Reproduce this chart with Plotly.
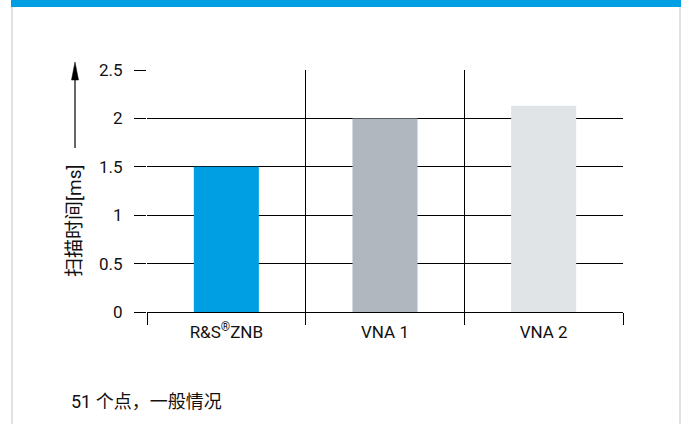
import plotly.graph_objects as go

categories = ["R&S<sup>®</sup>ZNB", "VNA 1", "VNA 2"]
sweep_time_ms = [1.5, 2.0, 2.13]
bar_colors = ["#009fe3", "#b0b7bf", "#e0e4e7"]
y_title = "扫描时间[ms]"
footnote = "51 个点，一般情况"

W, H = 688, 424
L, R, T, B = 147, 623, 70, 312  # plot area in pixels


def px(x):
    return (x - L) / (R - L)


def py(y):
    return (B - y) / (B - T)


FONT = "Roboto, Noto Sans CJK SC, sans-serif"

fig = go.Figure(
    go.Bar(
        x=categories,
        y=sweep_time_ms,
        marker=dict(color=bar_colors, line=dict(width=0)),
        width=0.41,
    )
)

fig.update_layout(
    width=W,
    height=H,
    margin=dict(l=L, r=W - R, t=T, b=H - B),
    paper_bgcolor="white",
    plot_bgcolor="white",
    showlegend=False,
    font=dict(family=FONT, color="#111111", size=17),
)

fig.update_xaxes(
    type="category",
    range=[-0.5, 2.5],
    tickson="boundaries",
    ticks="outside",
    ticklen=12,
    tickwidth=1,
    tickcolor="black",
    showgrid=True,
    gridcolor="black",
    gridwidth=1,
    showline=False,
    zeroline=False,
    tickfont=dict(size=17, family=FONT),
    ticklabelstandoff=8,
)

fig.update_yaxes(
    range=[0, 2.5],
    tickmode="array",
    tickvals=[0, 0.5, 1, 1.5, 2, 2.5],
    ticktext=["0", "0.5", "1", "1.5", "2", "2.5"],
    ticks="outside",
    ticklen=12,
    tickwidth=1,
    tickcolor="black",
    showgrid=True,
    gridcolor="black",
    gridwidth=1,
    zeroline=True,
    zerolinecolor="black",
    zerolinewidth=1,
    showline=False,
    tickfont=dict(size=17, family=FONT),
    ticklabelstandoff=8,
)

shapes = [
    # top blue band
    dict(type="rect", xref="paper", yref="paper",
         x0=px(11), x1=px(681), y0=py(7), y1=py(0),
         fillcolor="#009fe3", line=dict(width=0), layer="above"),
    # side borders
    dict(type="line", xref="paper", yref="paper",
         x0=px(12), x1=px(12), y0=py(7), y1=py(424),
         line=dict(color="#dde2e5", width=2)),
    dict(type="line", xref="paper", yref="paper",
         x0=px(680), x1=px(680), y0=py(7), y1=py(424),
         line=dict(color="#dde2e5", width=2)),
    # y-title arrow shaft
    dict(type="line", xref="paper", yref="paper",
         x0=px(75), x1=px(75), y0=py(148), y1=py(76),
         line=dict(color="black", width=1.2)),
    # y-title arrow head
    dict(type="path", xref="paper", yref="paper",
         path="M {a},{b} L {c},{b} L {d},{e} Z".format(
             a=px(71.5), c=px(78.5), b=py(80), d=px(75), e=py(62)),
         fillcolor="black", line=dict(color="black", width=0.5)),
]
fig.update_layout(shapes=shapes)

annotations = [
    dict(text=y_title, textangle=-90, xref="paper", yref="paper",
         x=px(74), y=py(221), xanchor="center", yanchor="middle",
         showarrow=False, font=dict(size=19, family=FONT, color="#111111")),
    dict(text=footnote, xref="paper", yref="paper",
         x=px(69), y=py(402), xanchor="left", yanchor="middle",
         showarrow=False, font=dict(size=18, family=FONT, color="#111111")),
]
fig.update_layout(annotations=annotations)

fig.write_html("out.html", config={"displayModeBar": False},
               post_script="document.body.style.margin='0';")
